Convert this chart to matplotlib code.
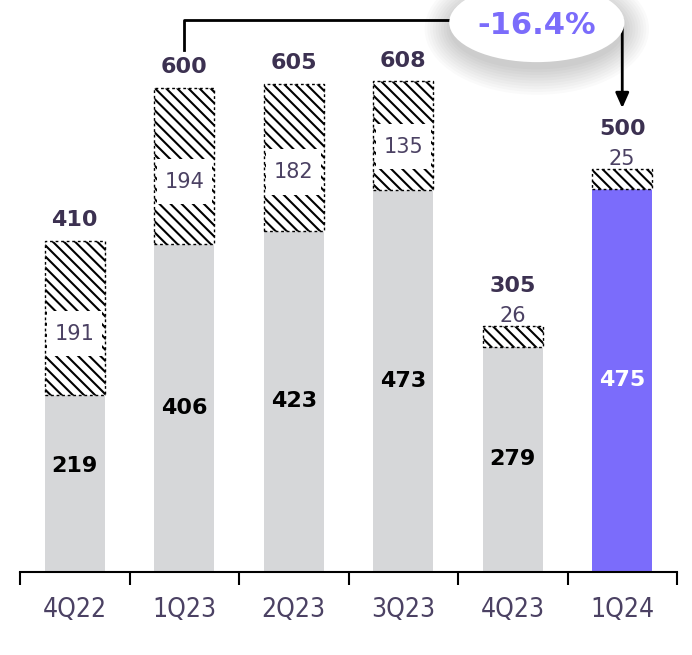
import matplotlib
matplotlib.use("Agg")
import matplotlib.pyplot as plt
from matplotlib.patches import Ellipse, Rectangle

quarters = ["4Q22", "1Q23", "2Q23", "3Q23", "4Q23", "1Q24"]
base = [219, 406, 423, 473, 279, 475]
extra = [191, 194, 182, 135, 26, 25]
totals = [410, 600, 605, 608, 305, 500]
change_label = "-16.4%"

grey = "#d6d7d9"
purple = "#7b6cfb"
dark = "#3c3151"
labcol = "#4b4163"

plt.rcParams["hatch.linewidth"] = 1.5
plt.rcParams["font.family"] = "DejaVu Sans"

fig = plt.figure(figsize=(6.92, 6.55), dpi=100)
ax = fig.add_axes([20 / 692, 83 / 655, 657 / 692, 572 / 655])
x = list(range(len(quarters)))
colors = [grey] * 5 + [purple]
bw = 0.55

ax.bar(x, base, width=bw, color=colors, zorder=2)
ax.bar(x, extra, bottom=base, width=bw, facecolor="white", edgecolor="black",
       hatch="\\\\\\", linestyle=(0, (2, 2)), linewidth=1.0, zorder=2)

for i in x:
    top = base[i] + extra[i]
    txtc = "white" if i == 5 else "black"
    ax.text(i, max(base[i] / 2, 132), str(base[i]), ha="center", va="center",
            fontsize=16, fontweight="bold", color=txtc, zorder=5)
    if extra[i] > 60:
        ly = base[i] + extra[i] * 0.4
        ax.add_patch(Rectangle((i - bw / 2 + 0.025, ly - 28), bw - 0.05, 56,
                               facecolor="white", edgecolor="none", zorder=3))
        ax.text(i, ly, str(extra[i]), ha="center", va="center",
                fontsize=15, color=labcol, zorder=5)
        ax.text(i, top + 26, str(totals[i]), ha="center", va="center",
                fontsize=16, fontweight="bold", color=dark, zorder=5)
    else:
        ax.text(i, top + 12, str(extra[i]), ha="center", va="center",
                fontsize=15, color=labcol, zorder=5)
        ax.text(i, top + 49, str(totals[i]), ha="center", va="center",
                fontsize=16, fontweight="bold", color=dark, zorder=5)

# bracket + arrow
ytop = 684
ax.plot([1, 1, 5], [647, ytop, ytop], color="black", lw=2, clip_on=False, zorder=3)
ax.annotate("", xy=(5, 575), xytext=(5, ytop + 1),
            arrowprops=dict(arrowstyle="-|>,head_width=0.4,head_length=0.9",
                            color="black", lw=2, shrinkA=0, shrinkB=0),
            annotation_clip=False, zorder=3)

# ellipse with soft shadow
cx, cy = 4.22, 681
for k in range(10):
    ax.add_patch(Ellipse((cx, cy - 8), 1.6 + 0.05 * k, 100 + 7 * k,
                         facecolor="black", edgecolor="none", alpha=0.02,
                         clip_on=False, zorder=6))
ax.add_patch(Ellipse((cx, cy), 1.6, 98, facecolor="white", edgecolor="none",
                     clip_on=False, zorder=7))
ax.text(cx, cy - 3, change_label, ha="center", va="center", fontsize=22,
        fontweight="bold", color=purple, zorder=8)

ax.set_xlim(-0.5, 5.5)
ax.set_ylim(0, 709)
ax.set_xticks(x)
ax.set_xticklabels(quarters, fontsize=19, color=labcol, fontstretch="condensed")
ax.tick_params(axis="x", which="major", length=0, pad=18)
ax.set_xticks([i - 0.5 for i in range(7)], minor=True)
ax.tick_params(axis="x", which="minor", length=9, width=1.5, color="black")
ax.set_yticks([])
for s in ["top", "right", "left"]:
    ax.spines[s].set_visible(False)
ax.spines["bottom"].set_linewidth(1.5)
ax.patch.set_alpha(0)

fig.savefig("out.png", dpi=100)
